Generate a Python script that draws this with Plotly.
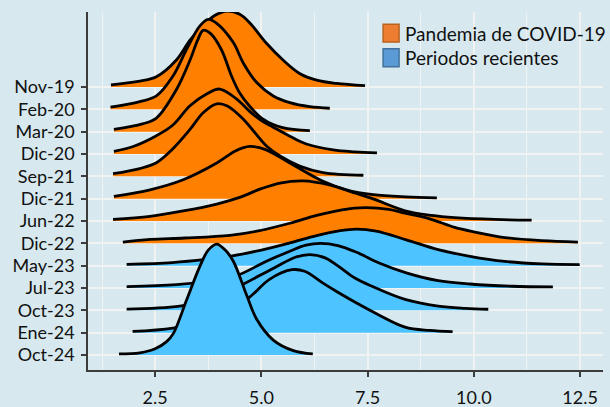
import plotly.graph_objects as go

# ---- data ----
labels = ["Nov-19", "Feb-20", "Mar-20", "Dic-20", "Sep-21", "Dic-21", "Jun-22",
          "Dic-22", "May-23", "Jul-23", "Oct-23", "Ene-24", "Oct-24"]
groups = ["Pandemia de COVID-19"] * 8 + ["Periodos recientes"] * 5
series_names = ["Pandemia de COVID-19", "Periodos recientes"]
x_ticks = [2.5, 5.0, 7.5, 10.0, 12.5]

x_nov19 = [1.46, 2.10, 2.53, 3.00, 3.32, 3.60, 3.90, 4.20, 4.50, 4.73, 5.12, 5.51, 5.90, 6.30, 6.77, 7.44]
h_nov19 = [0.10, 0.25, 0.46, 1.21, 2.10, 2.70, 3.20, 3.40, 3.25, 2.87, 1.96, 1.21, 0.61, 0.31, 0.16, 0.06]

x_feb20 = [1.45, 2.14, 2.53, 2.92, 3.24, 3.55, 3.75, 3.95, 4.34, 4.57, 4.89, 5.28, 5.67, 6.14, 6.61]
h_feb20 = [0.10, 0.35, 0.60, 1.49, 2.69, 3.73, 4.03, 3.85, 2.99, 2.09, 1.20, 0.60, 0.30, 0.12, 0.05]

x_mar20 = [1.53, 2.20, 2.53, 3.00, 3.32, 3.50, 3.63, 3.80, 4.06, 4.30, 4.49, 4.73, 5.04, 5.50, 6.14]
h_mar20 = [0.10, 0.35, 0.61, 1.88, 3.20, 4.10, 4.54, 4.40, 3.67, 2.48, 1.73, 1.13, 0.56, 0.18, 0.05]

x_dic20 = [1.53, 2.00, 2.53, 2.92, 3.32, 3.71, 4.02, 4.42, 4.73, 5.00, 5.28, 5.67, 6.06, 6.69, 7.20, 7.72]
h_dic20 = [0.12, 0.35, 0.82, 1.30, 2.16, 2.69, 2.91, 2.46, 1.90, 1.50, 1.20, 0.80, 0.45, 0.19, 0.10, 0.05]

x_sep21 = [1.51, 2.14, 2.53, 2.90, 3.32, 3.63, 3.95, 4.20, 4.58, 5.12, 5.44, 5.90, 6.45, 7.40]
h_sep21 = [0.12, 0.35, 0.61, 1.20, 2.10, 2.85, 3.25, 3.15, 2.55, 1.36, 0.91, 0.46, 0.17, 0.05]

x_dic21 = [1.53, 2.38, 3.16, 3.95, 4.40, 4.73, 5.10, 5.67, 6.45, 7.00, 7.63, 8.40, 9.13]
h_dic21 = [0.10, 0.40, 0.85, 1.60, 2.15, 2.34, 2.20, 1.60, 0.78, 0.40, 0.18, 0.08, 0.04]

x_jun22 = [1.51, 2.38, 3.16, 3.95, 4.49, 5.00, 5.44, 5.98, 6.60, 7.10, 7.63, 8.38, 9.00, 9.55, 10.50, 11.36]
h_jun22 = [0.07, 0.21, 0.45, 0.76, 1.06, 1.45, 1.70, 1.80, 1.62, 1.32, 0.99, 0.46, 0.25, 0.15, 0.07, 0.04]

x_dic22 = [1.74, 2.38, 3.20, 4.26, 4.90, 5.67, 6.30, 6.90, 7.44, 8.00, 8.38, 8.96, 9.55, 10.00, 10.73, 11.60, 12.45]
h_dic22 = [0.06, 0.18, 0.24, 0.36, 0.55, 0.90, 1.25, 1.50, 1.60, 1.52, 1.35, 1.10, 0.72, 0.52, 0.26, 0.12, 0.06]

x_may23 = [1.83, 2.90, 3.70, 4.26, 5.00, 5.67, 6.30, 6.80, 7.24, 7.70, 8.41, 9.16, 9.91, 10.73, 11.60, 12.49]
h_may23 = [0.06, 0.14, 0.28, 0.42, 0.70, 1.02, 1.35, 1.55, 1.64, 1.55, 1.16, 0.72, 0.42, 0.19, 0.08, 0.05]

x_jul23 = [1.83, 3.00, 3.80, 4.41, 5.12, 5.67, 6.05, 6.40, 6.80, 7.24, 7.80, 8.41, 9.16, 9.91, 10.90, 11.86]
h_jul23 = [0.06, 0.15, 0.32, 0.55, 1.20, 1.65, 1.92, 2.00, 1.90, 1.60, 1.10, 0.68, 0.33, 0.18, 0.08, 0.05]

x_oct23 = [1.83, 3.08, 3.90, 4.49, 5.30, 5.80, 6.14, 6.50, 6.81, 7.20, 7.59, 8.38, 9.16, 9.80, 10.34]
h_oct23 = [0.06, 0.19, 0.55, 1.09, 1.90, 2.38, 2.50, 2.35, 1.98, 1.45, 1.09, 0.49, 0.19, 0.09, 0.05]

x_ene24 = [1.97, 2.92, 3.80, 4.65, 5.20, 5.72, 6.02, 6.45, 6.81, 7.24, 7.71, 8.38, 8.96, 9.50]
h_ene24 = [0.06, 0.21, 0.60, 1.48, 2.40, 2.82, 2.75, 2.22, 1.80, 1.33, 0.85, 0.25, 0.10, 0.05]

x_oct24 = [1.65, 2.14, 2.50, 2.77, 2.93, 3.24, 3.55, 3.75, 3.95, 4.15, 4.34, 4.65, 4.89, 5.28, 5.75, 6.21]
h_oct24 = [0.05, 0.10, 0.28, 0.60, 0.97, 2.46, 3.96, 4.70, 4.97, 4.70, 4.20, 2.70, 1.60, 0.67, 0.20, 0.05]

series_x = [x_nov19, x_feb20, x_mar20, x_dic20, x_sep21, x_dic21, x_jun22,
            x_dic22, x_may23, x_jul23, x_oct23, x_ene24, x_oct24]
series_h = [h_nov19, h_feb20, h_mar20, h_dic20, h_sep21, h_dic21, h_jun22,
            h_dic22, h_may23, h_jul23, h_oct23, h_ene24, h_oct24]

# ---- styling ----
FILL = {"Pandemia de COVID-19": "#FF8000", "Periodos recientes": "#4DC3FF"}
LEG_FILL = {"Pandemia de COVID-19": "#ED7D31", "Periodos recientes": "#5B9BD5"}
LEG_LINE = {"Pandemia de COVID-19": "#B9621F", "Periodos recientes": "#41719C"}
BG = "#D7E9EF"
GRID = "#F1F3F3"
AXIS = "#3C3C3C"
FONT = "Lato"

n = len(labels)
positions = [n - i for i in range(n)]  # Nov-19 on top

fig = go.Figure()
for lab, grp, pos, xs, hs in zip(labels, groups, positions, series_x, series_h):
    # baseline (invisible) then curve filled down to it
    fig.add_trace(go.Scatter(x=[xs[0], xs[-1]], y=[pos, pos], mode="lines",
                             line=dict(width=0, color=FILL[grp]),
                             showlegend=False, hoverinfo="skip"))
    fig.add_trace(go.Scatter(x=xs, y=[pos + h for h in hs], mode="lines",
                             fill="tonexty", fillcolor=FILL[grp],
                             line=dict(color="black", width=2.8, shape="spline", smoothing=1.0),
                             name=lab, showlegend=False, hoverinfo="skip"))

# legend drawn as swatches + text (paper coordinates)
leg_y = [0.941, 0.872]
for name, yy in zip(series_names, leg_y):
    fig.add_shape(type="rect", xref="paper", yref="paper",
                  x0=0.573, x1=0.604, y0=yy - 0.025, y1=yy + 0.025,
                  fillcolor=LEG_FILL[name], line=dict(color=LEG_LINE[name], width=1.5))
    fig.add_annotation(text=name, xref="paper", yref="paper", x=0.612, y=yy,
                       xanchor="left", yanchor="middle", showarrow=False,
                       font=dict(family=FONT, size=19, color="#111111"))

fig.update_layout(
    width=610, height=407,
    margin=dict(l=88, r=7, t=12, b=37),
    paper_bgcolor=BG, plot_bgcolor=BG,
    font=dict(family=FONT, size=18, color="#111111"),
    showlegend=False,
)
fig.update_xaxes(range=[0.92, 13.04], tickmode="array", tickvals=x_ticks,
                 ticktext=[f"{v:.1f}" for v in x_ticks],
                 showgrid=True, gridcolor=GRID, gridwidth=2.4,
                 minor=dict(tickmode="array", tickvals=[1.25, 3.75, 6.25, 8.75, 11.25],
                            showgrid=True, gridcolor=GRID, gridwidth=1.3, ticks=""),
                 showline=True, linecolor=AXIS, linewidth=1.5,
                 ticks="outside", ticklen=5, tickcolor=AXIS, tickwidth=1.5,
                 ticklabelstandoff=6, zeroline=False, fixedrange=True, automargin=False)
fig.update_yaxes(range=[0.33, 16.36], tickmode="array", tickvals=positions, ticktext=labels,
                 showgrid=True, gridcolor=GRID, gridwidth=2.4,
                 showline=True, linecolor=AXIS, linewidth=1.5,
                 ticks="outside", ticklen=5, tickcolor=AXIS, tickwidth=1.5,
                 ticklabelstandoff=3, zeroline=False, fixedrange=True, automargin=False)

fig.write_html(
    "out.html",
    config={"displayModeBar": False},
    post_script="document.body.style.margin='0';document.body.style.background='" + BG + "';",
)
